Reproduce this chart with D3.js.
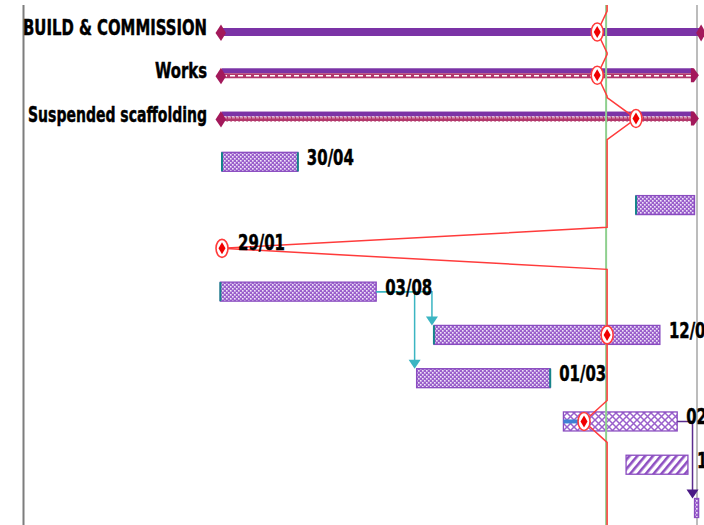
<!DOCTYPE html>
<html>
<head>
<meta charset="utf-8">
<script src="https://cdn.jsdelivr.net/npm/d3@7"></script>
<style>
  body { margin: 0; background: #fff; }
  svg { display: block; }
  text { font-family: "Liberation Sans Narrow", "Arial Narrow", "DejaVu Sans Condensed", sans-serif; font-weight: bold; fill: #000; stroke: #000; stroke-width: 0.45px; }
</style>
</head>
<body>
<svg id="gantt" width="704" height="525"></svg>
<script>
// summary rows (names on the left)
const summaryNames = ["BUILD & COMMISSION", "Works", "Suspended scaffolding"];
const summaryStart = ["2019-01-29", "2019-01-29", "2019-01-29"];
const summaryFinish = ["2020-08-31", "2020-08-21", "2020-08-21"];
const summaryProgress = ["2020-04-28", "2020-04-28", "2020-06-14"];
const summaryStyle = ["solid", "dashed", "wavy"];

// detail rows under the summaries
const taskStart = ["2019-01-29", "2020-06-14", "2019-01-29", "2019-01-27", "2019-10-13", "2019-09-22", "2020-03-18", "2020-06-02", "2020-08-24"];
const taskFinish = ["2019-04-30", "2020-08-23", "2019-01-29", "2019-08-03", "2020-07-12", "2020-03-01", "2020-08-02", "2020-08-15", "2020-08-28"];
const taskMilestone = [false, false, true, false, false, false, false, false, false];
const taskProgress = [null, null, "2019-01-29", null, "2020-05-10", null, "2020-04-12", null, null];
const taskShowLabel = [true, false, true, true, true, true, true, true, false];

// links between detail rows (indexes into the task arrays)
const linkFrom = [3, 3, 6];
const linkTo = [4, 5, 8];

const statusDate = "2020-05-10";
const timeStart = "2019-01-29";
const projectFinish = "2020-08-27";

// --- styles (kept apart from data)
const taskFill = ["dots", "dots", "dots", "dots", "dots", "dots", "cross", "stripes", "dots"];
const tealEdge = [["l", "r"], ["l"], [], ["l"], ["l"], ["r"], [], [], []];
const linkColor = ["#3bb5c2", "#3bb5c2", "#5b2c8e"];
const arrowColor = ["#3bb5c2", "#3bb5c2", "#4a1a85"];

const parse = d3.timeParse("%Y-%m-%d");
const fmt = d3.timeFormat("%d/%m");
const dayAfter = d => d3.timeDay.offset(parse(d), 1);

const svg = d3.select("#gantt");
const yTop = 5, yBottom = 525;

const x = d3.scaleTime()
  .domain([parse(timeStart), parse(projectFinish)])
  .range([222, 697]);

const y = d3.scalePoint()
  .domain(d3.range(summaryNames.length + taskStart.length))
  .range([32, 508]);

const rowY = i => y(i);
const taskRow = i => y(i + summaryNames.length);

// patterns
const defs = svg.append("defs");
const dots = defs.append("pattern").attr("id", "dots")
  .attr("width", 4).attr("height", 4).attr("patternUnits", "userSpaceOnUse");
dots.append("rect").attr("width", 4).attr("height", 4).attr("fill", "#9a5fcb");
dots.append("rect").attr("x", 0).attr("y", 0).attr("width", 1.6).attr("height", 1.6).attr("fill", "#efe4f8");
dots.append("rect").attr("x", 2).attr("y", 2).attr("width", 1.6).attr("height", 1.6).attr("fill", "#efe4f8");

const cross = defs.append("pattern").attr("id", "cross")
  .attr("width", 7).attr("height", 7).attr("patternUnits", "userSpaceOnUse");
cross.append("rect").attr("width", 7).attr("height", 7).attr("fill", "#fff");
cross.append("path").attr("d", "M0,0L7,7M7,0L0,7").attr("stroke", "#9a60cc").attr("stroke-width", 1.5);

const stripes = defs.append("pattern").attr("id", "stripes")
  .attr("width", 6).attr("height", 6).attr("patternUnits", "userSpaceOnUse")
  .attr("patternTransform", "rotate(40)");
stripes.append("rect").attr("width", 6).attr("height", 6).attr("fill", "#fff");
stripes.append("rect").attr("width", 2.6).attr("height", 6).attr("fill", "#8e4fc2");

const wavy = defs.append("pattern").attr("id", "wavy")
  .attr("width", 4).attr("height", 5).attr("patternUnits", "userSpaceOnUse");
wavy.append("rect").attr("width", 4).attr("height", 5).attr("fill", "#b2376b");
wavy.append("path").attr("d", "M0,3.5V1.5H2V3.5").attr("fill", "none").attr("stroke", "#fff").attr("stroke-width", 0.9);

// frame lines
svg.append("line").attr("x1", 23.5).attr("x2", 23.5).attr("y1", yTop).attr("y2", yBottom)
  .attr("stroke", "#7d7d7d").attr("stroke-width", 2);
svg.append("line").attr("x1", x(parse(projectFinish))).attr("x2", x(parse(projectFinish)))
  .attr("y1", yTop).attr("y2", yBottom).attr("stroke", "#a6a6a6").attr("stroke-width", 1.5);

// summary labels
const labelRight = 207;
const labelWidth = [184, 52, 179];
svg.selectAll("text.sum")
  .data(summaryNames)
  .join("text")
  .attr("class", "sum")
  .attr("x", (d, i) => labelRight - labelWidth[i])
  .attr("y", (d, i) => rowY(i) + 3)
  .attr("font-size", 22)
  .attr("textLength", (d, i) => labelWidth[i])
  .attr("lengthAdjust", "spacingAndGlyphs")
  .text(d => d);

// summary bars
summaryNames.forEach((name, i) => {
  const c = rowY(i);
  const x0 = x(parse(summaryStart[i]));
  const x1 = x(dayAfter(summaryFinish[i]));
  const g = svg.append("g");
  if (summaryStyle[i] === "solid") {
    g.append("rect").attr("x", x0).attr("y", c - 4).attr("width", x1 - x0).attr("height", 8).attr("fill", "#7b33a6");
    g.append("path").attr("d", `M${x1 - 5},${c + 1}L${x1},${c - 7.5}L${x1 + 5},${c + 1}L${x1},${c + 9.5}Z`).attr("fill", "#a3195b");
  } else {
    g.append("rect").attr("x", x0).attr("y", c - 7).attr("width", x1 - x0).attr("height", 5).attr("fill", "#7b33a6");
    if (summaryStyle[i] === "dashed") {
      g.append("rect").attr("x", x0).attr("y", c - 2).attr("width", x1 - x0).attr("height", 5).attr("fill", "#b2376b");
      g.append("line").attr("x1", x0).attr("x2", x1).attr("y1", c + 0.5).attr("y2", c + 0.5)
        .attr("stroke", "#fff").attr("stroke-width", 1.6).attr("stroke-dasharray", "5,3");
    } else {
      g.append("rect").attr("x", x0).attr("y", c - 2).attr("width", x1 - x0).attr("height", 5).attr("fill", "url(#wavy)");
    }
    g.append("path").attr("d", `M${x1 - 2},${c - 7}L${x1 + 1},${c - 7}L${x1 + 6},${c}L${x1 + 1},${c + 7}L${x1 - 2},${c + 7}Z`).attr("fill", "#a3195b");
  }
  g.append("path").attr("d", `M${x0 - 6.5},${c + 1}L${x0 - 1},${c - 7.5}L${x0 + 4},${c + 1}L${x0 - 1},${c + 9}Z`).attr("fill", "#a3195b");
});

// detail bars
taskStart.forEach((s, i) => {
  if (taskMilestone[i]) return;
  const c = taskRow(i);
  const x0 = x(parse(s));
  const x1 = x(dayAfter(taskFinish[i]));
  const h = 19;
  const g = svg.append("g");
  g.append("rect").attr("x", x0).attr("y", c - h / 2).attr("width", x1 - x0).attr("height", h)
    .attr("fill", `url(#${taskFill[i]})`).attr("stroke", "#8a4cc0").attr("stroke-width", 1.3);
  if (taskProgress[i] && taskFill[i] === "cross") {
    g.append("rect").attr("x", x0).attr("y", c - 2).attr("width", x(parse(taskProgress[i])) - x0).attr("height", 4)
      .attr("fill", "#3f80d4");
  }
  tealEdge[i].forEach(e => {
    const ex = e === "l" ? x0 : x1;
    g.append("line").attr("x1", ex).attr("x2", ex).attr("y1", c - h / 2).attr("y2", c + h / 2)
      .attr("stroke", "#16858a").attr("stroke-width", 2);
  });
});

// links
linkFrom.forEach((f, k) => {
  const t = linkTo[k];
  const fx = x(dayAfter(taskFinish[f]));
  const fy = taskRow(f);
  const tx = x(parse(taskStart[t])) - 2;
  const ty = taskRow(t) - 9.5;
  svg.append("path")
    .attr("d", `M${fx},${fy}H${tx}V${ty - 6}`)
    .attr("fill", "none").attr("stroke", linkColor[k]).attr("stroke-width", 1.5);
  svg.append("path")
    .attr("d", `M${tx - 6},${ty - 9}H${tx + 6}L${tx},${ty}Z`)
    .attr("fill", arrowColor[k]);
});

// status date line
const sx = x(parse(statusDate));
svg.append("line").attr("x1", sx - 1).attr("x2", sx - 1).attr("y1", yTop).attr("y2", yBottom)
  .attr("stroke", "#8fd08f").attr("stroke-width", 2);

// progress line
const prog = [];
summaryProgress.forEach((p, i) => prog.push({ y: rowY(i), x: x(parse(p)) }));
taskProgress.forEach((p, i) => { if (p) prog.push({ y: taskRow(i), x: x(parse(p)) }); });
const half = 21;
const pts = [[sx, yTop]];
prog.forEach(p => { pts.push([sx, p.y - half], [p.x, p.y], [sx, p.y + half]); });
pts.push([sx, yBottom]);
svg.append("path").attr("d", d3.line()(pts))
  .attr("fill", "none").attr("stroke", "#ff3b3b").attr("stroke-width", 1.5);

// progress markers
svg.selectAll("g.mark")
  .data(prog)
  .join("g")
  .attr("class", "mark")
  .attr("transform", d => `translate(${d.x},${d.y})`)
  .each(function () {
    const g = d3.select(this);
    g.append("ellipse").attr("rx", 6).attr("ry", 9).attr("fill", "#fff").attr("stroke", "#ff3b3b").attr("stroke-width", 1.6);
    g.append("path").attr("d", "M-3.5,0L0,-6L3.5,0L0,6Z").attr("fill", "#f00000");
  });

// date labels (the last ones run past the right edge, as in the source view)
taskStart.forEach((s, i) => {
  if (!taskShowLabel[i]) return;
  const ex = taskMilestone[i] ? x(parse(taskFinish[i])) + 16 : x(dayAfter(taskFinish[i])) + 9;
  svg.append("text")
    .attr("x", ex)
    .attr("y", taskRow(i) + (taskMilestone[i] ? 2 : 3))
    .attr("font-size", 22)
    .attr("textLength", 47)
    .attr("lengthAdjust", "spacingAndGlyphs")
    .text(fmt(parse(taskFinish[i])));
});
</script>
</body>
</html>
